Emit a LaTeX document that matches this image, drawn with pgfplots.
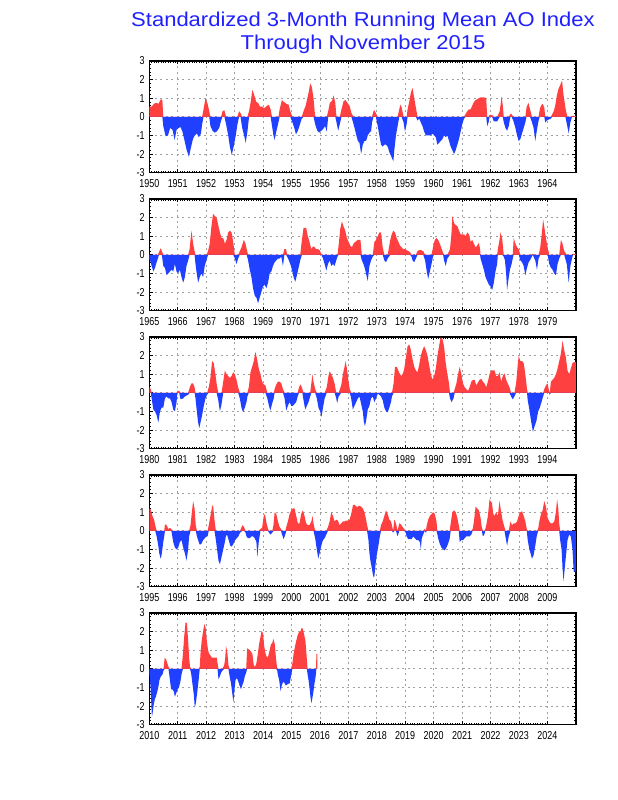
\documentclass[border=0pt]{standalone}
\usepackage{pgfplots}
\usepackage{pgfplotstable}
\pgfplotsset{compat=1.18}
\usepackage{fontspec}
\setmainfont{Liberation Sans}
\newfontfamily\tickfont[FakeStretch=0.78]{Liberation Sans}
\newfontfamily\titlefont[FakeStretch=1.1]{Liberation Sans}
\definecolor{aopos}{RGB}{255,64,64}
\definecolor{aoneg}{RGB}{32,64,255}
\definecolor{ttl}{RGB}{32,32,255}
\definecolor{gridgray}{RGB}{160,160,160}

% t = months since January of the panel's first year, v = AO index
\pgfplotstableread{
t v
0 0.55
1.0 0.55
2.0 0.7
2.9 0.75
3.9 0.7
4.9 0.95
5.5 0.9
5.9 -0.5
6.9 -1.05
7.9 -1.0
8.8 -0.6
9.8 -0.7
10.7 -1.25
11.5 -0.7
12.4 -0.6
13.2 -0.55
14.0 -0.8
14.9 -1.3
15.7 -1.75
16.7 -2.15
17.5 -1.7
18.4 -1.2
19.2 -1.0
20.1 -0.9
20.9 -1.1
21.8 -0.9
22.3 -0.4
22.9 0.4
23.7 1.0
24.6 0.7
25.3 0.3
25.8 -0.5
26.7 -0.75
27.5 -0.85
28.4 -0.8
29.5 -0.6
30.3 -0.2
30.9 0.3
31.7 0.35
32.4 -0.4
33.3 -1.0
34.0 -1.6
34.8 -2.05
35.6 -1.6
36.5 -1.0
37.2 -0.4
37.9 0.3
38.5 0.2
39.2 -0.6
40.0 -1.0
40.7 -1.4
41.4 -0.8
42.1 0.3
42.8 0.8
43.5 1.45
44.2 1.2
45.1 0.8
45.9 0.75
46.7 0.55
47.6 0.55
48.4 0.45
49.3 0.55
50.4 0.65
51.2 0.4
51.8 -0.5
52.4 -1.0
52.9 -1.25
53.6 -0.8
54.5 -0.3
55.0 0.4
56.0 0.9
56.8 0.8
57.8 0.7
58.8 0.65
59.5 0.3
60.4 -0.3
61.2 -0.6
61.9 -0.95
62.7 -0.75
63.6 -0.4
64.3 -0.1
65.1 0.3
66.0 0.6
66.7 1.0
67.4 1.4
67.9 1.8
68.6 1.6
69.3 1.0
70.0 -0.4
70.9 -0.75
71.7 -0.85
72.6 -0.75
73.4 -0.65
74.2 -0.5
74.9 -0.8
75.5 0.3
76.2 0.75
77.1 0.85
77.8 1.15
78.5 0.75
79.0 -0.3
79.7 -0.75
80.4 -0.4
81.1 0.4
82.0 0.85
82.8 0.9
83.6 0.75
84.5 0.6
85.3 0.2
86.2 -0.4
87.0 -0.8
88.0 -1.3
88.7 -1.4
89.4 -2.0
90.1 -1.5
90.8 -1.3
91.5 -1.3
92.2 -1.0
93.2 -0.8
93.6 -0.8
94.0 -0.3
94.6 0.3
95.0 0.35
95.6 0.2
96.4 -0.5
97.1 -1.0
97.8 -1.5
98.5 -1.6
99.2 -1.5
99.9 -1.5
100.6 -1.6
101.3 -1.9
102.0 -2.1
103.0 -2.4
103.4 -1.8
104.1 -1.0
104.8 -0.5
105.5 0.4
105.9 0.65
106.5 0.5
107.3 -0.3
107.9 -0.8
108.6 -0.4
109.0 0.4
109.7 0.8
110.4 1.3
111.1 1.55
111.8 1.0
112.5 0.5
113.2 -0.2
113.9 -0.1
114.6 -0.3
115.3 -0.5
116.0 -0.8
116.7 -1.0
117.4 -1.0
118.8 -1.0
119.5 -0.9
120.2 -1.0
120.9 -1.1
121.6 -1.5
122.3 -1.4
123.0 -1.3
123.7 -1.2
124.4 -1.0
125.1 -1.1
125.8 -1.0
126.5 -1.3
127.2 -1.6
127.9 -1.8
128.6 -2.0
129.3 -1.8
130.0 -1.5
130.7 -1.2
131.4 -0.8
132.1 -0.4
132.8 -0.1
133.5 0.15
134.2 0.3
134.9 0.4
135.6 0.4
136.3 0.6
137.0 0.8
137.7 0.9
138.4 0.95
139.8 1.05
141.2 1.05
142.2 1.0
142.6 -0.5
143.2 -0.3
143.6 0.1
144.7 0.1
145.4 -0.25
146.8 -0.25
147.9 0.3
148.7 1.1
149.2 0.6
149.6 -0.3
150.3 -0.6
151.0 -0.75
151.7 -0.5
152.4 0.15
152.9 0.15
153.6 -0.2
154.5 -0.6
155.2 -1.0
155.9 -1.3
156.6 -1.2
157.3 -0.9
158.0 -0.6
158.7 -0.3
159.2 0.5
160.0 0.75
160.7 0.4
161.5 -0.3
162.2 -0.6
162.9 -1.3
163.6 -0.7
164.3 -0.2
164.8 0.4
165.3 0.6
166.0 0.7
166.7 0.5
167.1 -0.3
167.8 -0.2
168.5 -0.15
169.5 -0.1
169.9 0.1
170.7 0.3
171.3 0.6
172.1 1.2
172.7 1.5
173.4 1.7
174.2 1.95
174.8 1.2
175.6 0.5
176.4 -0.5
177.0 -0.9
177.7 -0.3
178.4 0.05
180 0.05
}\panelA

\pgfplotstableread{
t v
0.0 -0.2
0.3 -0.3
1.0 -0.6
1.7 -0.9
2.4 -0.7
3.1 -0.4
3.6 -0.2
4.1 0.15
4.8 0.35
5.3 0.2
5.9 -0.6
6.6 -0.7
7.3 -1.1
8.0 -1.0
8.7 -0.9
9.4 -0.8
10.1 -0.9
10.8 -0.5
11.5 -0.9
12.2 -1.0
12.9 -0.8
13.6 -1.2
14.3 -1.5
15.0 -1.2
15.7 -0.6
16.4 -0.3
17.0 0.3
17.4 0.8
17.8 1.3
18.5 0.6
19.1 0.2
19.5 -0.5
19.9 -0.9
20.6 -1.5
21.3 -1.2
22.0 -1.0
22.7 -1.2
23.4 -0.6
24.1 -0.3
24.8 0.2
25.5 0.6
26.2 1.5
26.9 2.2
27.6 2.1
28.4 2.0
29.1 1.6
29.8 1.2
30.5 0.9
31.2 0.9
31.9 0.6
32.6 0.8
33.3 1.2
34.0 1.3
34.7 1.2
35.4 0.7
36.1 -0.2
36.8 -0.5
37.5 -0.2
38.2 0.2
38.9 0.4
39.9 0.8
40.6 0.6
41.1 0.3
41.7 -0.3
42.4 -0.8
43.1 -1.2
43.8 -1.8
44.5 -2.2
45.2 -2.3
45.9 -2.6
46.6 -2.3
47.3 -2.0
48.0 -1.7
48.7 -1.6
49.4 -1.8
50.1 -1.5
50.8 -1.0
51.5 -0.9
52.2 -0.6
52.9 -0.4
53.6 -0.3
54.3 -0.2
55.0 -0.2
55.7 -0.1
56.4 -0.6
57.0 0.3
57.7 0.3
58.2 -0.1
58.9 -0.3
59.5 -0.5
60.2 -0.8
60.9 -1.2
61.6 -1.45
62.3 -1.1
63.0 -0.7
63.7 -0.3
64.4 0.8
65.1 1.45
66.2 1.45
66.9 1.0
67.6 0.7
68.4 0.3
69.1 0.45
69.8 0.4
70.5 0.3
71.2 0.3
71.9 0.25
72.6 0.05
73.3 -0.2
74.0 -0.5
74.7 -0.85
75.4 -0.5
76.1 -0.3
76.8 -0.6
77.5 -0.5
78.2 -0.6
78.9 -0.3
79.4 -0.1
79.9 0.5
80.6 1.4
81.3 1.8
81.9 1.55
82.7 1.3
83.4 0.9
84.1 0.7
84.8 0.5
85.5 0.4
86.2 0.6
87.0 0.7
88.0 0.8
89.1 0.8
89.7 -0.3
90.4 -0.5
91.1 -0.8
91.8 -1.2
92.2 -1.4
92.9 -0.6
93.6 -0.3
94.3 -0.1
95.0 0.7
95.7 0.8
96.4 1.0
97.1 1.2
97.8 1.2
98.5 0.4
99.2 -0.3
99.9 -0.4
100.6 -0.2
101.7 0.8
102.3 1.1
103.0 1.3
103.7 1.2
104.4 0.9
105.1 0.7
105.8 0.5
106.5 0.4
107.2 0.3
107.9 0.3
108.6 0.25
109.3 0.2
110.0 0.15
110.7 -0.1
111.1 -0.3
111.8 -0.4
112.5 -0.2
113.2 0.2
113.9 0.25
114.6 0.25
115.6 0.2
116.4 -0.3
117.1 -0.9
117.7 -1.3
118.4 -0.9
119.1 -0.5
119.9 0.5
120.5 0.8
121.2 0.9
121.9 0.8
122.6 0.6
123.3 0.35
124.0 0.1
124.4 -0.3
125.1 -0.6
125.8 -0.2
126.9 0.3
127.5 1.1
127.9 2.1
128.6 1.7
129.3 1.6
130.0 1.55
130.7 1.3
131.4 1.1
132.1 1.1
132.8 1.1
133.5 1.0
134.2 1.2
134.9 1.1
135.6 0.7
136.3 0.8
137.0 0.6
137.7 0.4
138.4 0.5
139.1 0.65
139.6 0.3
139.8 -0.2
140.5 -0.5
141.2 -0.8
141.9 -1.2
142.6 -1.4
143.3 -1.6
144.0 -1.7
144.7 -1.9
145.4 -1.5
146.1 -0.9
146.8 -0.5
147.1 0.3
147.8 0.8
148.2 1.2
148.9 0.9
149.6 -0.1
150.1 -0.3
150.6 -1.0
151.0 -1.9
151.5 -1.4
152.2 -0.8
152.9 -0.5
153.4 -0.2
153.8 0.9
154.5 0.6
155.2 0.4
155.9 0.3
156.6 -0.3
157.3 -0.4
158.0 -0.6
158.7 -1.1
159.4 -0.7
160.1 -0.4
161.1 -0.2
161.8 0.05
162.5 -0.2
162.9 -0.3
163.6 -0.8
164.3 -0.2
165.0 0.4
165.7 1.2
166.2 1.9
166.7 1.5
167.4 0.9
168.1 0.4
168.8 -0.5
169.5 -0.7
170.2 -0.8
170.9 -1.0
171.6 -1.1
172.3 -0.5
173.0 -0.2
173.7 0.8
174.4 0.6
175.1 0.2
176.2 -0.5
177.0 -1.5
177.7 -0.6
178.4 -0.2
178.8 0.05
180 0.05
}\panelB

\pgfplotstableread{
t v
0 0.3
0.6 0.2
1.0 -0.3
1.7 -0.9
2.4 -1.0
3.1 -1.2
3.8 -1.6
4.5 -1.0
5.2 -0.8
5.9 -0.8
6.6 -0.3
7.3 -0.2
8.0 -0.3
8.7 -0.3
9.4 -0.5
10.1 -0.9
10.8 -1.0
11.5 -0.5
11.9 0.1
12.6 0.1
13.2 -0.35
14.3 -0.3
15.0 -0.2
15.7 -0.15
16.4 -0.1
17.1 0.3
17.8 0.5
18.5 0.5
19.1 0.3
19.5 -0.3
19.9 -0.8
20.6 -1.6
21.1 -1.9
21.6 -1.6
22.3 -1.2
23.0 -0.7
23.7 -0.3
24.4 -0.1
25.1 0.3
25.8 0.8
26.5 1.7
27.2 1.6
27.9 1.0
28.4 0.5
29.1 -0.4
29.8 -1.0
30.5 -0.6
31.2 0.6
31.9 1.2
32.6 1.0
33.3 0.9
34.0 0.8
34.7 0.9
35.4 1.1
36.1 1.0
36.8 0.7
37.5 0.3
38.2 -0.3
38.9 -0.8
39.6 -1.05
40.3 -0.8
41.0 -0.5
41.4 -0.2
42.0 0.3
42.7 1.1
43.4 1.4
44.1 1.7
44.8 2.2
45.5 1.8
46.2 1.3
46.9 1.0
47.6 0.6
48.3 0.45
49.0 0.4
49.8 -0.3
50.5 -0.7
51.1 -0.95
51.8 -0.6
52.5 -0.3
52.9 0.2
53.6 0.45
54.3 0.6
55.0 0.6
55.7 0.5
56.4 0.2
57.1 -0.3
57.8 -0.95
58.5 -0.7
59.2 -0.5
59.9 -0.7
60.6 -0.7
61.3 -0.6
62.0 -0.5
62.6 -0.2
63.2 0.3
63.9 0.45
64.6 0.2
65.1 -0.4
65.8 -0.9
66.5 -0.7
67.2 -0.5
67.9 -0.2
68.4 0.5
68.8 1.0
69.3 0.6
70.0 0.2
70.7 -0.3
71.4 -0.8
72.1 -1.0
72.7 -1.3
73.3 -0.8
74.0 -0.3
74.9 0.3
75.6 0.9
76.1 1.15
76.8 1.0
77.5 0.8
78.2 0.5
78.9 -0.3
79.3 -0.55
79.9 -0.2
81.0 0.4
81.7 1.0
82.4 1.4
82.8 1.7
83.4 1.3
84.1 0.6
84.6 0.2
85.2 -0.3
85.9 -0.9
86.6 -0.7
87.3 -0.5
88.0 -0.3
88.7 -0.2
89.4 -0.6
90.1 -1.0
90.5 -1.5
91.0 -1.8
91.5 -1.5
92.2 -0.9
92.9 -0.7
93.6 -0.3
94.3 -0.2
95.0 -0.5
95.7 -0.3
96.4 -0.05
97.1 -0.1
97.8 -0.2
98.5 -0.4
99.2 -0.8
99.9 -1.0
100.6 -1.05
101.3 -0.8
102.0 -0.5
102.4 -0.2
103.1 0.5
103.7 1.4
104.4 1.4
105.1 1.2
105.8 1.0
106.5 0.9
107.2 1.1
107.6 1.3
108.3 1.9
109.0 2.5
109.7 2.6
110.4 2.3
111.1 1.8
111.8 1.4
112.5 1.2
113.2 1.1
113.9 1.5
114.6 2.0
115.3 2.3
116.0 2.5
116.7 2.3
117.4 2.0
118.1 1.5
118.8 1.0
119.5 0.7
120.2 0.9
120.9 1.3
121.6 2.0
122.3 2.5
123.0 3.0
123.7 2.9
124.4 2.5
125.1 1.6
125.8 1.0
126.5 0.5
126.9 -0.3
127.6 -0.5
128.4 -0.3
128.9 0.2
129.6 0.5
130.3 1.0
131.0 1.4
131.7 1.0
132.4 0.5
133.1 0.3
133.8 0.2
134.5 0.1
135.2 0.3
135.9 0.6
136.6 0.7
137.3 0.7
138.0 0.4
138.7 0.55
139.4 0.7
140.1 0.75
140.8 0.6
141.5 0.5
142.2 0.3
142.9 0.6
143.6 1.0
144.3 1.2
145.0 1.2
145.7 1.2
146.4 0.9
147.1 0.9
147.8 1.1
148.5 0.6
149.2 0.9
149.9 1.05
150.6 0.7
151.3 0.5
152.0 0.3
152.7 -0.2
153.4 -0.35
154.1 -0.2
154.8 0.5
155.5 1.5
155.9 2.0
156.6 1.7
157.3 1.7
158.0 1.6
158.7 1.0
159.4 0.2
159.7 -0.4
160.4 -0.9
161.1 -1.5
161.5 -1.8
161.9 -2.1
162.6 -1.8
163.4 -1.5
164.1 -1.0
164.8 -0.8
165.5 -0.5
166.2 -0.2
166.7 0.2
167.4 0.4
168.1 0.5
168.7 0.1
169.0 -0.1
169.5 0.6
170.2 0.7
170.9 0.8
171.6 1.0
172.3 1.3
173.0 1.7
173.7 2.1
174.4 2.8
175.1 2.3
175.8 1.9
176.5 1.2
177.2 1.0
177.9 1.3
178.6 1.6
179.3 1.65
180 1.65
}\panelC

\pgfplotstableread{
t v
0 1.2
0.6 1.15
1.3 0.8
2.0 0.6
2.5 0.3
3.1 -0.3
3.8 -0.8
4.2 -1.2
4.8 -1.5
5.2 -1.3
5.9 -0.6
6.3 -0.3
6.6 0.35
7.3 0.3
8.0 0.1
8.7 0.15
9.3 0.1
9.7 -0.3
10.1 -0.6
10.8 -0.9
11.5 -1.0
12.2 -0.9
12.9 -0.6
13.6 -0.5
14.3 -0.9
15.0 -1.2
15.7 -1.6
16.4 -1.0
16.8 -0.3
17.4 0.3
17.8 0.8
18.5 1.6
19.1 1.2
19.6 0.3
20.1 -0.3
20.6 -0.5
21.3 -0.75
22.0 -0.7
22.7 -0.5
23.4 -0.4
24.1 -0.3
24.6 -0.3
25.1 0.3
25.8 0.8
26.5 1.3
26.9 1.4
27.5 0.6
28.1 -0.5
28.6 -1.0
29.2 -1.6
29.8 -1.8
30.5 -1.4
31.2 -1.0
31.9 -0.6
32.3 -0.3
32.8 -0.2
33.5 -0.5
34.2 -0.8
34.8 -0.85
35.5 -0.7
36.2 -0.5
36.9 -0.4
37.6 -0.3
38.3 -0.1
39.3 0.3
40.0 0.2
40.6 -0.1
41.0 -0.3
41.7 -0.4
42.4 -0.4
43.1 -0.3
43.8 -0.3
44.5 -0.4
45.2 -0.6
45.6 -1.4
46.2 -0.6
46.9 0.1
47.6 0.15
48.3 0.8
48.8 0.9
49.5 0.4
50.1 0.1
50.5 -0.1
51.1 -0.2
51.9 -0.1
52.4 0.3
52.9 1.0
53.6 0.9
54.3 0.5
55.0 0.2
55.6 0.1
56.0 -0.2
56.7 -0.45
57.4 -0.2
57.8 0.2
58.5 0.5
59.2 0.9
59.9 1.1
60.6 1.2
61.3 1.2
62.0 0.8
62.7 0.4
63.4 0.4
64.1 0.9
64.8 1.1
65.5 0.8
66.2 0.4
66.9 0.3
67.6 0.3
68.4 0.5
68.9 0.8
69.3 0.4
70.0 -0.4
70.7 -1.0
71.3 -1.5
71.9 -1.2
72.6 -0.8
73.3 -0.5
74.0 -0.4
74.7 -0.2
75.4 0.2
76.1 0.5
76.8 1.0
77.5 0.8
78.2 0.5
78.9 0.6
79.6 0.55
80.3 0.3
81.0 0.4
81.7 0.5
82.4 0.5
83.1 0.55
83.8 0.55
84.5 0.6
85.2 0.9
86.0 1.4
86.7 1.4
87.3 1.3
88.0 1.3
88.7 1.35
89.4 1.3
90.1 1.2
90.8 1.0
91.5 0.6
91.9 0.3
92.5 -0.5
92.9 -1.2
93.3 -1.6
93.9 -2.0
94.3 -2.3
94.7 -2.5
95.0 -2.45
95.4 -1.9
96.0 -1.3
96.7 -0.8
97.3 -0.3
97.8 0.3
98.5 0.5
99.2 0.8
99.9 1.1
100.6 0.9
101.3 0.6
102.0 0.5
102.4 0.3
102.9 -0.1
103.4 0.6
104.1 0.4
104.8 -0.3
105.5 0.4
106.2 0.35
106.9 0.2
107.6 0.1
108.2 -0.1
108.6 -0.3
109.3 -0.45
110.0 -0.45
110.7 -0.45
111.4 -0.3
112.1 -0.4
112.8 -0.5
113.5 -0.5
114.2 -0.6
114.6 -1.0
115.0 -0.4
115.6 -0.2
116.2 0.1
116.7 -0.1
117.1 0.3
117.7 0.6
118.4 0.8
119.1 0.9
119.8 1.0
120.5 0.9
121.2 0.5
121.6 -0.2
121.9 -0.4
122.6 -0.7
123.3 -0.9
124.0 -1.0
124.7 -1.05
125.4 -0.9
126.1 -0.7
126.8 -0.4
127.2 0.4
127.9 1.0
128.6 1.1
129.3 1.0
130.0 0.7
130.6 0.3
131.0 -0.6
131.7 -0.5
132.4 -0.5
133.1 -0.4
133.8 -0.3
134.5 -0.3
135.2 -0.3
135.9 -0.2
136.5 0.1
137.0 0.5
137.7 1.3
138.4 1.2
139.1 1.1
139.8 0.7
140.3 0.2
140.8 -0.3
141.4 -0.2
141.8 0.1
142.2 0.3
142.9 0.8
143.6 1.7
144.0 1.6
144.6 1.5
145.2 0.9
145.7 0.8
146.4 1.0
147.1 0.8
147.8 1.6
148.5 1.0
149.2 0.5
149.9 0.2
150.3 -0.3
151.0 -0.8
151.7 -0.3
152.4 0.5
153.1 0.3
153.8 0.4
154.5 0.4
155.2 0.5
155.9 0.8
156.6 1.0
157.3 1.05
158.0 0.8
158.7 0.5
159.3 0.1
159.7 -0.5
160.4 -1.0
161.1 -1.3
161.5 -1.5
162.2 -1.3
162.9 -0.8
163.5 -0.3
164.1 0.1
164.6 0.5
165.3 0.9
166.0 1.1
166.7 1.6
167.4 1.3
168.1 0.7
168.8 0.5
169.5 0.4
170.2 0.4
170.9 0.5
171.6 1.0
172.1 1.7
172.6 1.2
173.0 0.4
173.4 -0.5
174.0 -1.0
174.4 -2.0
174.8 -2.7
175.2 -2.2
175.8 -1.4
176.5 -0.5
177.2 -0.2
177.9 -0.3
178.6 -1.0
179.1 -2.2
180 -2.2
}\panelD

\pgfplotstableread{
t v
0 -0.2
0.3 -0.5
0.7 -1.5
1.1 -2.6
1.5 -2.3
1.9 -1.9
2.4 -1.6
2.8 -1.5
3.2 -1.3
3.8 -1.0
4.3 -0.6
4.9 -0.4
5.6 -0.3
6.0 -0.1
6.5 0.6
7.1 0.5
7.6 0.3
8.1 0.1
8.6 -0.5
9.2 -1.1
9.7 -1.1
10.3 -1.2
10.8 -1.5
11.4 -1.3
12.0 -1.1
12.5 -1.0
13.1 -0.7
13.6 -0.3
14.2 0.8
14.7 1.7
15.3 2.5
15.9 2.45
16.4 1.5
16.8 0.6
17.2 0.1
17.7 -0.3
18.2 -0.8
18.8 -1.4
19.2 -2.1
19.7 -1.8
20.3 -1.2
20.9 -0.5
21.3 0.1
21.6 0.8
22.1 1.5
22.7 2.0
23.2 2.4
23.8 2.2
24.2 1.6
24.8 1.0
25.3 0.8
25.9 0.7
26.4 0.6
27.1 0.6
27.8 0.6
28.5 0.6
28.8 0.3
29.2 -0.55
29.8 -0.4
30.3 -0.2
30.9 -0.1
31.6 0.2
32.0 0.5
32.4 1.25
33.0 0.8
33.4 0.2
33.9 -0.4
34.5 -0.8
35.0 -1.3
35.5 -1.8
35.9 -1.2
36.4 -0.6
37.0 -0.5
37.6 -0.7
38.1 -0.9
38.7 -1.1
39.2 -0.9
39.8 -0.7
40.3 -0.4
40.9 -0.2
41.3 1.1
41.9 1.05
42.4 1.0
43.0 0.9
43.5 0.8
44.1 0.2
44.6 0.1
45.2 0.3
45.8 0.8
46.3 1.3
46.9 1.7
47.4 2.05
48.0 1.9
48.5 1.2
49.1 0.8
49.7 0.6
50.2 0.7
50.8 1.0
51.3 1.3
51.9 1.4
52.4 1.6
53.0 1.3
53.5 0.5
54.0 -0.1
54.2 -0.3
54.8 -0.6
55.4 -1.2
55.9 -0.9
56.5 -0.7
57.0 -0.75
57.6 -0.9
58.1 -0.85
58.7 -0.8
59.2 -0.8
59.8 -0.4
60.4 0.3
60.9 0.8
61.5 1.2
62.0 1.5
62.6 1.8
63.1 1.95
63.7 2.0
64.3 2.2
64.8 2.15
65.4 1.8
65.9 1.5
66.5 0.5
66.8 -0.3
67.2 -0.6
67.6 -1.0
68.0 -1.5
68.4 -1.85
68.8 -1.6
69.3 -1.2
69.7 -0.8
70.1 -0.5
70.4 -0.2
70.5 0.8
70.9 0.8
}\panelE

\pgfplotsset{aopanel/.style={
  scale only axis, width=426.5pt, height=111.6pt,
  anchor=north west,
  xmin=0, xmax=180, ymin=-3, ymax=3,
  xtick={0,12,...,168}, ytick={-3,-2,...,3},
  yticklabels={-3,-2,-1,0,1,2,3},
  minor x tick num=11, minor y tick num=4,
  grid=major,
  grid style={gridgray, line width=0.8pt, dash pattern=on 2pt off 3.5pt},
  axis line style={line width=1.6pt},
  tick style={black, line width=0.8pt},
  major tick length=3.5pt, minor tick length=1.8pt, tick align=inside,
  ticklabel style={font=\tickfont\fontsize{11.5}{11.5}\selectfont, inner sep=0.5pt},
  xticklabel style={yshift=-6pt},
  yticklabel style={xshift=-4pt},
}}

\newcommand{\aoarea}[1]{%
  \addplot[draw=none, fill=aopos] table[x=t, y expr={max(\thisrow{v},0)}] {#1} \closedcycle;
  \addplot[draw=none, fill=aoneg] table[x=t, y expr={min(\thisrow{v},0)}] {#1} \closedcycle;
}

\begin{document}
\begin{tikzpicture}
\path[use as bounding box] (0,0) rectangle (618pt,800pt);
\node[text=ttl, font=\titlefont\fontsize{20}{20}\selectfont] at (363pt,779pt) {Standardized 3-Month Running Mean AO Index};
\node[text=ttl, font=\titlefont\fontsize{20}{20}\selectfont] at (363pt,756pt) {Through November 2015};

\begin{axis}[aopanel, at={(149.3pt,739pt)},
  xticklabels={1950,1951,1952,1953,1954,1955,1956,1957,1958,1959,1960,1961,1962,1963,1964}]
\aoarea{\panelA}
\end{axis}

\begin{axis}[aopanel, at={(149.3pt,601pt)},
  xticklabels={1965,1966,1967,1968,1969,1970,1971,1972,1973,1974,1975,1976,1977,1978,1979}]
\aoarea{\panelB}
\end{axis}

\begin{axis}[aopanel, at={(149.3pt,463pt)},
  xticklabels={1980,1981,1982,1983,1984,1985,1986,1987,1988,1989,1990,1991,1992,1993,1994}]
\aoarea{\panelC}
\end{axis}

\begin{axis}[aopanel, at={(149.3pt,325pt)},
  xticklabels={1995,1996,1997,1998,1999,2000,2001,2002,2003,2004,2005,2006,2007,2008,2009}]
\aoarea{\panelD}
\end{axis}

\begin{axis}[aopanel, at={(149.3pt,187pt)},
  xticklabels={2010,2011,2012,2013,2014,2015,2016,2017,2018,2019,2020,2021,2022,2023,2024}]
\aoarea{\panelE}
\end{axis}
\end{tikzpicture}
\end{document}
